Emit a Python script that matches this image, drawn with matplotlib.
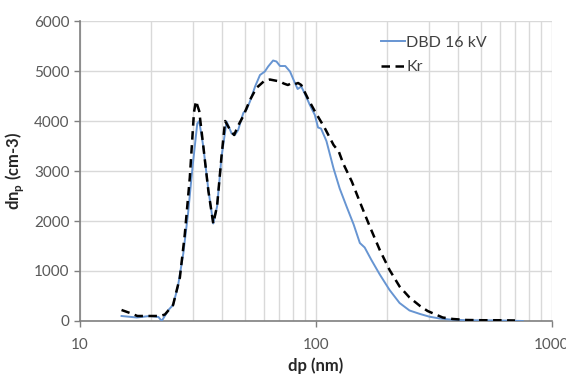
import matplotlib
matplotlib.use("Agg")
import matplotlib.pyplot as plt
from matplotlib.ticker import FixedLocator, NullFormatter, FuncFormatter

plt.rcParams['font.family'] = ['Lato', 'DejaVu Sans']
plt.rcParams['mathtext.fontset'] = 'custom'
plt.rcParams['mathtext.bf'] = 'Lato:bold'
plt.rcParams['mathtext.rm'] = 'Lato'

# DBD 16 kV (solid blue)
dp_dbd = [15.0, 17.4, 19.8, 21.5, 22.2, 23.7, 24.8, 26.0, 27.4, 28.7, 30.0, 31.4,
          32.0, 33.3, 35.0, 36.7, 38.1, 39.8, 41.8, 43.9, 45.3, 46.8, 49.2, 50.8,
          52.5, 55.2, 57.9, 60.7, 62.7, 65.8, 68.0, 70.4, 74.1, 77.6, 81.6, 83.6,
          86.6, 89.6, 94.2, 98.9, 102, 105, 110.7, 118.7, 126, 135, 144.4, 153.4,
          160.8, 171.7, 186.3, 205, 226, 249, 276, 303, 334, 368, 434, 600, 752]
n_dbd = [100, 70, 100, 80, 0, 220, 320, 690, 1350, 2150, 3090, 3950,
         4000, 3490, 2620, 1950, 2290, 3290, 3990, 3750, 3720, 3820, 4160, 4230,
         4390, 4690, 4920, 4990, 5090, 5210, 5190, 5100, 5100, 4990, 4750, 4640,
         4690, 4550, 4320, 4120, 3870, 3850, 3600, 3050, 2650, 2280, 1930, 1560,
         1470, 1220, 930, 620, 360, 210, 140, 85, 50, 30, 15, 10, 0]

# Kr (dashed black)
dp_kr = [15.0, 16.5, 17.5, 19.0, 21.9, 22.9, 24.8, 26.5, 27.8, 29.2, 30.4, 31.0,
         32.0, 33.3, 35.0, 36.7, 38.1, 39.8, 41.2, 43.5, 45.0, 46.7, 49.2, 52.5,
         55.9, 60.0, 63.7, 67.0, 70.4, 73.0, 76.0, 79.0, 81.6, 84.0, 86.6, 92.4,
         99.0, 108.9, 118.7, 124.9, 130.4, 141.8, 153.4, 169, 186.3, 205, 226,
         249, 276, 297, 344, 380, 434, 510, 600, 697]
n_kr = [220, 150, 100, 100, 100, 130, 320, 870, 1730, 2870, 4170, 4400,
        4200, 3500, 2600, 1950, 2300, 3300, 4000, 3800, 3720, 3900, 4100, 4420,
        4660, 4790, 4830, 4810, 4790, 4750, 4720, 4760, 4740, 4760, 4720, 4450,
        4190, 3860, 3520, 3390, 3150, 2790, 2380, 1890, 1420, 1020, 690,
        470, 300, 200, 70, 40, 20, 15, 15, 10]

x_ticks = [10, 100, 1000]
y_ticks = [0, 1000, 2000, 3000, 4000, 5000, 6000]

fig = plt.figure(figsize=(5.66, 3.76), dpi=100)
ax = fig.add_axes([0.1413, 0.1463, 0.8340, 0.7978])

ax.plot(dp_dbd, n_dbd, color='#6795d2', lw=1.4, label='DBD 16 kV', zorder=3)
ax.plot(dp_kr, n_kr, color='black', lw=1.8, ls=(0, (3.4, 2.2)), label='Kr', zorder=4)

ax.set_xscale('log')
ax.set_xlim(10, 1000)
ax.set_ylim(0, 6000)
ax.xaxis.set_major_locator(FixedLocator(x_ticks))
ax.xaxis.set_major_formatter(FuncFormatter(lambda v, p: '%d' % v))
minor = [m * d for d in (10, 100) for m in range(2, 10)]
ax.xaxis.set_minor_locator(FixedLocator(minor))
ax.xaxis.set_minor_formatter(NullFormatter())
ax.yaxis.set_major_locator(FixedLocator(y_ticks))

ax.grid(True, which='major', color='#d9d9d9', lw=1.0, zorder=0)
ax.grid(True, which='minor', axis='x', color='#d9d9d9', lw=1.0, zorder=0)
ax.set_axisbelow(True)

for s in ('top', 'right'):
    ax.spines[s].set_visible(False)
for s in ('left', 'bottom'):
    ax.spines[s].set_color('#7f7f7f')
    ax.spines[s].set_linewidth(1.2)

ax.tick_params(axis='both', which='major', labelsize=11, labelcolor='#595959',
               color='#7f7f7f', length=4, width=1.0, direction='out')
ax.tick_params(axis='x', which='minor', length=0)
ax.tick_params(axis='x', pad=8)

ax.set_xlabel('dp (nm)', fontsize=12, fontweight='bold', color='#262626', labelpad=4)
ax.set_ylabel(r'dn$_\mathbf{p}$ (cm-3)', fontsize=12, fontweight='bold', color='#262626',
              labelpad=6)

ax.legend(loc='upper left', bbox_to_anchor=(0.608, 1.0), frameon=False, fontsize=11.5,
          handlelength=1.5, handletextpad=0.05, labelspacing=0.65, labelcolor='#404040')

fig.savefig('out.png', dpi=100)
